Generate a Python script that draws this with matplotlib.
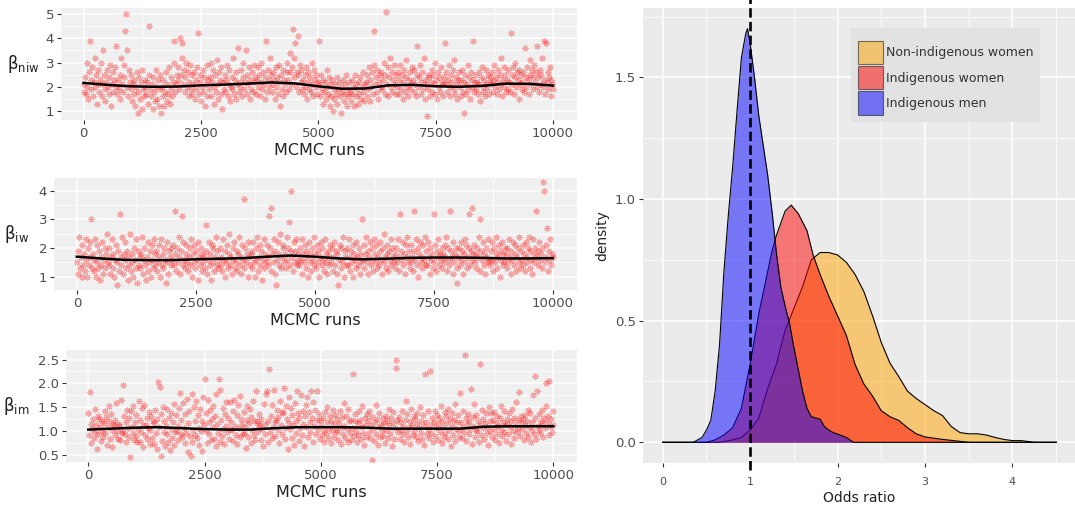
import matplotlib.pyplot as plt
from matplotlib.patches import Patch
import numpy as np

# smoothed trace (running mean) read at every 500 runs
runs_knots = [0, 500, 1000, 1500, 2000, 2500, 3000, 3500, 4000, 4500, 5000,
              5500, 6000, 6500, 7000, 7500, 8000, 8500, 9000, 9500, 10000]
niw_smooth = [2.16, 2.08, 2.02, 2.00, 2.01, 2.06, 2.09, 2.13, 2.18, 2.14, 2.02,
              1.92, 1.93, 2.06, 2.08, 2.02, 2.00, 2.04, 2.13, 2.12, 2.05]
iw_smooth = [1.70, 1.64, 1.59, 1.58, 1.58, 1.61, 1.63, 1.65, 1.70, 1.74, 1.70,
             1.64, 1.61, 1.63, 1.66, 1.67, 1.67, 1.66, 1.64, 1.64, 1.65]
im_smooth = [1.03, 1.05, 1.07, 1.08, 1.06, 1.04, 1.03, 1.03, 1.06, 1.08, 1.08,
             1.08, 1.07, 1.05, 1.05, 1.05, 1.05, 1.09, 1.10, 1.10, 1.10]

# thinned MCMC draws, evenly spread over runs 0..10000
# beta_niw and beta_iw in tenths, beta_im in hundredths
niw_draws = [
    21, 18, 24, 17, 30, 20, 15, 26, 39, 23, 19, 28, 16, 22, 32, 20, 25, 13, 21, 27,
    18, 23, 30, 16, 21, 35, 25, 19, 14, 22, 27, 20, 17, 24, 29, 12, 21, 26, 18, 23,
    28, 20, 37, 17, 23, 19, 15, 25, 32, 21, 18, 24, 29, 43, 50, 35, 20, 16, 27, 22,
    19, 25, 14, 21, 17, 23, 12, 20, 26, 9, 18, 24, 15, 22, 11, 27, 19, 16, 23, 20,
    17, 22, 13, 25, 45, 19, 16, 21, 11, 24, 18, 14, 27, 20, 15, 23, 12, 19, 25, 9,
    20, 16, 23, 12, 18, 26, 14, 21, 17, 28, 13, 19, 24, 16, 22, 30, 39, 18, 21, 25,
    23, 28, 19, 40, 25, 32, 38, 21, 27, 18, 24, 30, 20, 26, 16, 22, 29, 19, 25, 17,
    21, 26, 15, 23, 19, 28, 42, 17, 22, 25, 14, 20, 27, 18, 24, 12, 21, 29, 16, 23,
    19, 24, 30, 16, 22, 27, 13, 20, 25, 18, 31, 21, 15, 26, 23, 17, 28, 11, 22, 19,
    25, 18, 23, 29, 16, 21, 27, 14, 20, 24, 19, 32, 17, 23, 26, 15, 21, 36, 18, 22,
    20, 27, 16, 24, 30, 19, 22, 35, 17, 25, 21, 28, 15, 23, 19, 26, 18, 29, 22, 24,
    17, 23, 28, 20, 25, 16, 22, 30, 19, 26, 21, 15, 24, 39, 18, 27, 23, 20, 32, 25,
    21, 18, 26, 23, 15, 28, 20, 24, 17, 29, 22, 12, 25, 19, 27, 16, 23, 21, 18, 26,
    30, 23, 19, 26, 34, 21, 28, 44, 24, 32, 38, 20, 26, 41, 25, 18, 29, 22, 27, 19,
    23, 17, 25, 20, 28, 15, 22, 26, 19, 24, 18, 30, 21, 16, 27, 23, 20, 25, 17, 22,
    39, 21, 16, 25, 19, 13, 23, 18, 22, 15, 27, 20, 17, 24, 12, 21, 16, 23, 10, 19,
    15, 21, 17, 24, 13, 19, 22, 16, 20, 9, 18, 23, 14, 21, 17, 25, 12, 19, 16, 22,
    18, 14, 23, 17, 20, 12, 25, 16, 21, 19, 13, 22, 17, 24, 15, 20, 18, 26, 14, 21,
    22, 16, 25, 19, 28, 14, 23, 20, 26, 17, 29, 43, 21, 24, 18, 27, 15, 22, 25, 20,
    26, 19, 23, 30, 17, 25, 51, 21, 28, 16, 24, 32, 20, 26, 18, 23, 29, 21, 17, 25,
    20, 26, 17, 23, 29, 19, 25, 15, 22, 27, 18, 24, 31, 20, 16, 23, 26, 19, 21, 28,
    23, 18, 27, 21, 16, 25, 37, 20, 24, 29, 17, 22, 26, 19, 32, 15, 23, 21, 8, 25,
    19, 24, 16, 22, 27, 18, 25, 21, 30, 17, 23, 15, 26, 20, 24, 18, 28, 22, 16, 21,
    24, 38, 21, 26, 18, 23, 29, 20, 16, 25, 22, 27, 19, 31, 17, 24, 21, 15, 23, 26,
    20, 16, 23, 27, 18, 9, 22, 25, 17, 21, 29, 19, 24, 15, 26, 20, 23, 39, 18, 22,
    25, 19, 22, 17, 26, 21, 14, 24, 28, 20, 18, 23, 16, 27, 21, 19, 25, 17, 22, 24,
    21, 26, 18, 23, 29, 20, 24, 17, 22, 27, 19, 25, 32, 21, 16, 23, 28, 20, 25, 18,
    23, 19, 27, 22, 18, 42, 25, 21, 28, 17, 24, 30, 20, 26, 23, 15, 27, 21, 25, 19,
    22, 26, 18, 36, 24, 20, 28, 23, 17, 25, 31, 21, 27, 19, 24, 29, 22, 26, 37, 20,
    24, 18, 27, 21, 25, 32, 20, 39, 23, 17, 38, 22, 26, 19, 24, 28, 16, 23, 21, 19,
]
iw_draws = [
    15, 19, 11, 24, 13, 17, 10, 21, 14, 18, 12, 23, 16, 10, 20, 14, 17, 22, 30, 13,
    18, 12, 16, 23, 10, 15, 21, 13, 19, 9, 17, 14, 22, 11, 16, 20, 13, 18, 25, 15,
    14, 20, 11, 17, 23, 13, 18, 10, 16, 21, 15, 7, 19, 12, 32, 17, 14, 24, 11, 18,
    16, 22, 13, 19, 9, 17, 14, 25, 12, 18, 15, 10, 20, 16, 23, 13, 8, 19, 14, 17,
    13, 18, 24, 11, 16, 20, 14, 9, 17, 22, 12, 15, 19, 10, 21, 16, 13, 23, 14, 18,
    19, 12, 15, 21, 17, 10, 23, 14, 18, 13, 20, 16, 8, 22, 15, 11, 19, 17, 14, 20,
    16, 21, 14, 33, 18, 12, 20, 15, 24, 17, 11, 19, 31, 14, 22, 16, 13, 18, 21, 15,
    12, 17, 20, 14, 23, 10, 18, 15, 21, 13, 19, 16, 9, 22, 17, 14, 20, 12, 18, 15,
    17, 13, 28, 19, 11, 16, 22, 14, 18, 9, 21, 15, 20, 12, 17, 24, 14, 19, 13, 16,
    20, 14, 17, 12, 23, 16, 10, 19, 15, 21, 13, 18, 25, 14, 17, 11, 20, 16, 22, 13,
    15, 19, 12, 18, 24, 14, 17, 11, 21, 16, 37, 13, 20, 15, 18, 10, 22, 17, 14, 19,
    13, 18, 22, 15, 10, 20, 16, 24, 12, 17, 21, 14, 19, 9, 16, 23, 13, 18, 15, 21,
    17, 14, 31, 20, 12, 34, 18, 15, 23, 11, 19, 7, 16, 22, 14, 18, 25, 13, 17, 20,
    21, 15, 18, 13, 24, 16, 20, 29, 14, 19, 40, 17, 12, 22, 15, 19, 23, 14, 18, 16,
    14, 20, 16, 23, 11, 18, 15, 21, 13, 19, 17, 10, 22, 15, 18, 12, 20, 16, 24, 14,
    18, 13, 21, 15, 19, 10, 17, 22, 14, 20, 16, 12, 23, 15, 18, 11, 19, 17, 14, 21,
    15, 20, 12, 17, 22, 14, 19, 11, 18, 7, 16, 21, 13, 20, 15, 24, 10, 17, 19, 14,
    20, 14, 17, 23, 12, 19, 15, 21, 10, 18, 16, 13, 22, 17, 14, 20, 11, 18, 15, 30,
    16, 21, 13, 18, 24, 15, 19, 11, 17, 22, 14, 20, 16, 12, 23, 18, 15, 21, 13, 17,
    14, 19, 22, 16, 11, 20, 15, 25, 17, 13, 21, 18, 12, 19, 16, 23, 14, 20, 17, 15,
    18, 13, 20, 15, 23, 17, 12, 32, 19, 16, 22, 14, 18, 11, 21, 17, 24, 15, 19, 13,
    15, 21, 17, 12, 19, 33, 16, 23, 14, 20, 10, 18, 22, 15, 17, 13, 21, 16, 24, 14,
    19, 14, 22, 17, 11, 20, 16, 18, 13, 32, 15, 21, 12, 19, 17, 23, 14, 18, 16, 20,
    13, 18, 15, 21, 17, 24, 12, 20, 16, 14, 33, 19, 17, 11, 22, 15, 18, 20, 13, 8,
    17, 20, 14, 22, 16, 19, 11, 18, 23, 15, 21, 13, 17, 20, 32, 14, 19, 34, 16, 18,
    21, 15, 18, 13, 20, 17, 24, 12, 30, 19, 16, 22, 14, 18, 11, 20, 17, 15, 23, 16,
    14, 19, 22, 16, 12, 20, 15, 18, 24, 13, 17, 21, 10, 19, 16, 22, 14, 18, 15, 20,
    18, 13, 20, 15, 23, 17, 11, 19, 16, 22, 14, 18, 21, 12, 17, 20, 15, 24, 13, 19,
    16, 21, 14, 18, 12, 22, 17, 15, 20, 24, 13, 19, 16, 11, 23, 18, 15, 20, 33, 17,
    19, 14, 22, 16, 18, 13, 20, 43, 40, 15, 21, 17, 27, 12, 19, 16, 23, 14, 18, 17,
]
im_draws = [
    138, 92, 182, 115, 74, 105, 126, 86, 147, 98, 112, 63, 131, 94, 125, 108, 79, 122, 101, 88,
    117, 143, 96, 129, 71, 108, 152, 121, 84, 136, 103, 67, 115, 112, 91, 124, 158, 99, 83, 110,
    114, 82, 166, 95, 101, 197, 132, 93, 118, 76, 145, 106, 87, 127, 45, 141, 109, 95, 153, 81,
    119, 89, 134, 78, 105, 162, 78, 123, 97, 148, 66, 113, 155, 91, 112, 128, 84, 107, 139, 73,
    102, 131, 86, 121, 116, 72, 144, 95, 125, 62, 202, 108, 192, 136, 48, 79, 151, 98, 121, 68,
    110, 93, 146, 76, 127, 61, 104, 138, 85, 119, 70, 157, 97, 133, 100, 111, 82, 148, 180, 94,
    124, 87, 159, 106, 74, 135, 96, 168, 55, 117, 142, 89, 47, 78, 178, 103, 151, 92, 120, 164,
    86, 133, 107, 71, 146, 99, 122, 58, 171, 113, 210, 137, 101, 75, 165, 118, 94, 144, 81, 126,
    109, 152, 83, 131, 68, 178, 115, 95, 210, 77, 187, 123, 90, 148, 104, 72, 135, 111, 160, 97,
    128, 84, 161, 104, 119, 102, 143, 79, 166, 110, 92, 134, 73, 154, 106, 88, 173, 125, 115, 93,
    96, 139, 108, 65, 152, 124, 87, 117, 147, 74, 130, 103, 162, 91, 121, 81, 183, 122, 112, 99,
    135, 112, 82, 126, 105, 69, 156, 114, 93, 178, 185, 77, 120, 230, 98, 132, 86, 155, 109, 187,
    118, 89, 124, 144, 102, 129, 75, 163, 113, 140, 94, 137, 190, 107, 83, 152, 125, 63, 116, 171,
    104, 148, 86, 133, 112, 71, 159, 122, 95, 184, 137, 80, 127, 106, 176, 92, 143, 115, 68, 131,
    108, 154, 172, 87, 140, 119, 98, 183, 128, 76, 161, 110, 145, 93, 123, 185, 105, 136, 84, 124,
    113, 91, 127, 103, 78, 139, 96, 118, 150, 85, 107, 131, 74, 121, 99, 145, 88, 114, 134, 102,
    97, 125, 82, 116, 141, 106, 72, 129, 93, 158, 111, 86, 132, 104, 77, 147, 120, 95, 123, 81,
    106, 220, 89, 121, 135, 101, 76, 117, 92, 143, 124, 84, 109, 152, 95, 71, 128, 113, 87, 136,
    122, 98, 142, 85, 112, 40, 130, 104, 79, 119, 155, 93, 126, 70, 108, 138, 88, 115, 101, 127,
    90, 117, 75, 132, 103, 121, 86, 147, 112, 95, 128, 68, 116, 139, 84, 106, 250, 232, 123, 97,
    129, 83, 118, 102, 142, 94, 111, 77, 124, 163, 99, 135, 87, 108, 120, 73, 146, 113, 92, 131,
    101, 126, 88, 114, 137, 79, 107, 150, 96, 122, 84, 133, 110, 71, 220, 118, 93, 141, 104, 86,
    225, 112, 95, 128, 76, 119, 143, 90, 106, 134, 82, 115, 127, 98, 153, 74, 121, 109, 87, 139,
    96, 131, 116, 84, 147, 103, 125, 69, 138, 110, 91, 123, 79, 157, 105, 118, 134, 87, 101, 180,
    118, 85, 109, 142, 97, 260, 127, 80, 115, 136, 93, 121, 104, 188, 73, 129, 111, 156, 88, 102,
    134, 99, 120, 78, 240, 113, 91, 145, 106, 125, 83, 117, 138, 96, 109, 71, 151, 122, 100, 137,
    87, 124, 105, 140, 82, 117, 131, 94, 111, 74, 128, 103, 152, 89, 119, 143, 97, 112, 80, 126,
    115, 93, 137, 108, 121, 72, 147, 100, 128, 86, 113, 160, 97, 124, 106, 182, 90, 131, 118, 104,
    125, 81, 112, 133, 96, 120, 87, 145, 109, 138, 76, 118, 102, 176, 93, 215, 127, 84, 184, 111,
    103, 136, 95, 122, 114, 145, 88, 127, 106, 152, 200, 119, 132, 91, 205, 110, 125, 98, 141, 113,
]

# posterior densities of the odds ratios
or_nonind = [0, 0.65, 0.8, 0.9, 1.0, 1.1, 1.2, 1.3, 1.4, 1.5, 1.6, 1.7, 1.8, 1.9, 2.0, 2.1, 2.2, 2.3,
             2.4, 2.5, 2.6, 2.7, 2.8, 2.9, 3.0, 3.1, 3.2, 3.3, 3.4, 3.5, 3.6, 3.7, 3.8, 3.9, 4.0,
             4.1, 4.25, 4.5]
dens_nonind = [0, 0, 0.01, 0.02, 0.05, 0.10, 0.22, 0.32, 0.46, 0.55, 0.64, 0.75, 0.78, 0.78, 0.77,
               0.74, 0.69, 0.62, 0.52, 0.41, 0.325, 0.27, 0.21, 0.18, 0.155, 0.13, 0.11, 0.065,
               0.04, 0.035, 0.035, 0.03, 0.02, 0.012, 0.007, 0.007, 0, 0]
or_indw = [0, 0.5, 0.6, 0.7, 0.8, 0.9, 1.0, 1.1, 1.2, 1.25, 1.3, 1.4, 1.47, 1.55, 1.65, 1.72, 1.8,
           1.9, 2.0, 2.1, 2.2, 2.3, 2.4, 2.5, 2.6, 2.7, 2.8, 2.9, 3.0, 3.2, 3.4, 3.5, 4.5]
dens_indw = [0, 0, 0.01, 0.03, 0.06, 0.14, 0.32, 0.53, 0.70, 0.785, 0.85, 0.95, 0.975, 0.94, 0.87,
             0.77, 0.69, 0.60, 0.52, 0.44, 0.32, 0.24, 0.19, 0.13, 0.105, 0.09, 0.06, 0.035, 0.022,
             0.012, 0.004, 0, 0]
or_indm = [0, 0.35, 0.4, 0.45, 0.5, 0.55, 0.6, 0.65, 0.7, 0.75, 0.8, 0.85, 0.9, 0.95, 0.97, 1.0,
           1.05, 1.1, 1.15, 1.2, 1.25, 1.3, 1.35, 1.4, 1.45, 1.5, 1.55, 1.6, 1.65, 1.7, 1.75, 1.8,
           1.85, 1.9, 1.95, 2.0, 2.1, 2.18, 4.5]
dens_indm = [0, 0, 0.01, 0.02, 0.05, 0.09, 0.21, 0.40, 0.70, 0.93, 1.13, 1.36, 1.58, 1.68, 1.70,
             1.64, 1.50, 1.34, 1.22, 1.10, 0.95, 0.78, 0.64, 0.56, 0.49, 0.39, 0.30, 0.21, 0.14,
             0.105, 0.10, 0.095, 0.065, 0.05, 0.04, 0.034, 0.02, 0, 0]

groups = ["Non-indigenous women", "Indigenous women", "Indigenous men"]
fills = ["orange", "red", "blue"]

W, H = 1075, 511
fig = plt.figure(figsize=(W / 100, H / 100), dpi=100)


def px_axes(l, t, r, b):
    return fig.add_axes([l / W, 1 - b / H, (r - l) / W, (b - t) / H])


def gg_style(ax, bg):
    ax.set_facecolor(bg)
    for s in ax.spines.values():
        s.set_visible(False)
    ax.grid(which="major", color="white", lw=1.1)
    ax.grid(which="minor", color="white", lw=0.55)
    ax.set_axisbelow(True)
    ax.tick_params(which="major", length=3, width=0.8, color="#333333",
                   labelcolor="#4d4d4d", labelsize=9.5, pad=2)
    ax.tick_params(which="minor", length=0)


panels = [
    ((61, 8, 577, 120), np.array(niw_draws) / 10, niw_smooth, (0.63, 5.25), [1, 2, 3, 4, 5], 0.5, "niw"),
    ((54, 178, 577, 290), np.array(iw_draws) / 10, iw_smooth, (0.54, 4.44), [1, 2, 3, 4], 0.5, "iw"),
    ((66, 350, 577, 462), np.array(im_draws) / 100, im_smooth, (0.35, 2.70), [0.5, 1.0, 1.5, 2.0, 2.5], 0.25, "im"),
]

for box, draws, smooth, ylim, yt, ym, sub in panels:
    ax = px_axes(*box)
    gg_style(ax, "#f0f0f0")
    runs = np.linspace(0, 10000, len(draws))
    ax.scatter(runs, draws, marker=(8, 2, 0), s=18, linewidths=0.8,
               color="red", alpha=0.33, zorder=2)
    ax.plot(runs_knots, smooth, color="black", lw=1.8, zorder=3)
    ax.set_xlim(-480, 10510)
    ax.set_ylim(*ylim)
    ax.set_xticks([0, 2500, 5000, 7500, 10000])
    ax.set_xticks([1250, 3750, 6250, 8750], minor=True)
    ax.set_yticks(yt)
    ax.set_yticks(np.array(yt[:-1]) + ym, minor=True)
    if sub == "im":
        ax.set_yticklabels(["%.1f" % v for v in yt])
    ax.set_xlabel("MCMC runs", fontsize=11.5, color="#222222", labelpad=2)
    ax.set_ylabel(r"$\mathregular{\beta_{%s}}$" % sub, rotation=0, fontsize=12,
                  color="#222222", labelpad=16, va="center")

# right panel: densities of odds ratios
ax = px_axes(643, 8, 1075, 463)
gg_style(ax, "#ebebeb")
series = [(or_nonind, dens_nonind), (or_indw, dens_indw), (or_indm, dens_indm)]
z = 2
for (x, d), c in zip(series, fills):
    ax.fill_between(x, d, color=c, alpha=0.5, lw=0, zorder=z)
    ax.plot(x, d, color="black", lw=0.8, zorder=z + 1)
    z += 2
vl = ax.axvline(1, ymin=-0.016, ymax=1.02, color="black", lw=1.9, zorder=10, clip_on=False)
vl.set_dashes([3.6, 1.6])
ax.set_xlim(-0.225, 4.715)
ax.set_ylim(-0.085, 1.785)
ax.set_xticks([0, 1, 2, 3, 4])
ax.set_xticks([0.5, 1.5, 2.5, 3.5, 4.5], minor=True)
ax.set_yticks([0, 0.5, 1.0, 1.5])
ax.set_yticks([0.25, 0.75, 1.25, 1.75], minor=True)
ax.set_yticklabels(["0.0", "0.5", "1.0", "1.5"])
ax.tick_params(axis="x", labelsize=8, pad=7)
ax.set_xlabel("Odds ratio", fontsize=10, color="#222222", labelpad=3)
ax.set_ylabel("density", fontsize=10, color="#222222", labelpad=4)

handles = [Patch(facecolor=c, alpha=0.5, edgecolor="black", lw=0.8) for c in fills]
leg = ax.legend(handles, groups, loc="upper left", bbox_to_anchor=(0.482, 0.956),
                fontsize=9, frameon=True, fancybox=False, borderpad=0.55,
                title=" ", title_fontsize=3,
                handlelength=2.0, handleheight=2.5, labelspacing=0.15,
                handletextpad=0.2, borderaxespad=0)
leg.get_frame().set_facecolor("#e2e2e2")
leg.get_frame().set_edgecolor("none")
leg.get_frame().set_alpha(1)
for h in leg.legend_handles:
    h.set_edgecolor("black")
for t in leg.get_texts():
    t.set_color("#333333")

fig.savefig("out.png", dpi=100)
